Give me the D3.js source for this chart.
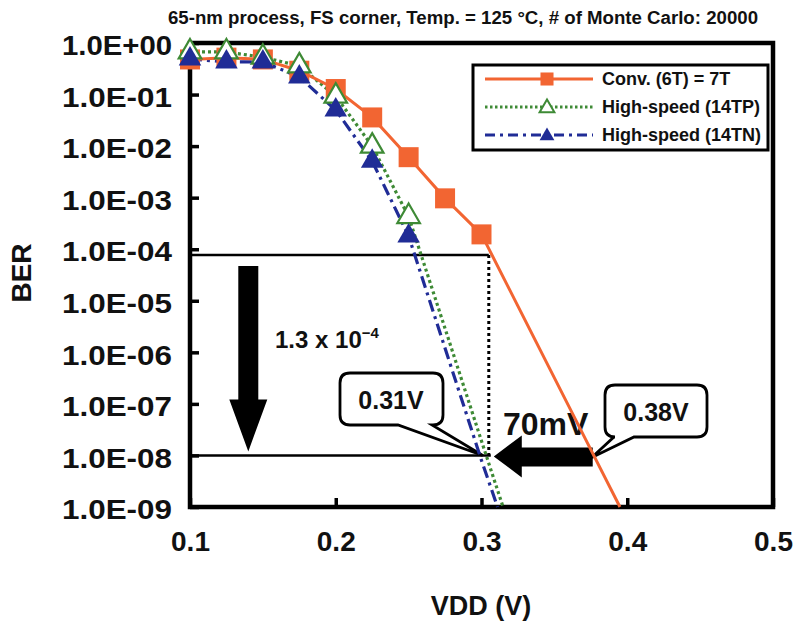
<!DOCTYPE html>
<html><head><meta charset="utf-8">
<script src="https://cdn.jsdelivr.net/npm/d3@7"></script>
<style>
body{margin:0;background:#fff}
text{font-family:"Liberation Sans",Arial,Helvetica,sans-serif;font-weight:bold;fill:#111}
</style>
</head><body>
<svg id="c" width="800" height="636"></svg>
<script>
// ---- data ----
const titleText = "65-nm process, FS corner, Temp. = 125 \u00B0C, # of Monte Carlo: 20000";
const seriesNames = ["Conv. (6T) = 7T", "High-speed (14TP)", "High-speed (14TN)"];
const vddConv = [0.1, 0.125, 0.15, 0.175, 0.2, 0.225, 0.25, 0.275, 0.3];
const berConv = [0.48, 0.52, 0.48, 0.29, 0.128, 0.036, 0.0061, 0.00097, 0.000194];
const vddConvFit = [0.325, 0.35, 0.375, 0.395];
const berConvFit = [7.9e-6, 3.2e-7, 1.3e-8, 1e-9];
const vddHS = [0.1, 0.125, 0.15, 0.175, 0.2, 0.225, 0.25];
const berTP = [0.67, 0.67, 0.53, 0.36, 0.093, 0.010, 0.00043];
const berTN = [0.49, 0.43, 0.43, 0.22, 0.05, 0.0051, 0.00018];
const vddTPFit = [0.275, 0.3, 0.3148];
const berTPFit = [2.9e-6, 1.9e-8, 1e-9];
const vddTNFit = [0.275, 0.3, 0.311];
const berTNFit = [1.2e-6, 8e-9, 1e-9];
const xTicks = [0.1, 0.2, 0.3, 0.4, 0.5];
const yTicks = [1e0, 1e-1, 1e-2, 1e-3, 1e-4, 1e-5, 1e-6, 1e-7, 1e-8, 1e-9];
const yTickLabels = ["1.0E+00","1.0E-01","1.0E-02","1.0E-03","1.0E-04","1.0E-05","1.0E-06","1.0E-07","1.0E-08","1.0E-09"];
const berConvAt031 = 7.7e-5;   // conv BER at 0.31 V
const berTarget = 1e-8;
const vNew = 0.305, vOld = 0.377;

// ---- layout ----
const L = 190, R = 773, T = 43, B = 507;
const C = {conv:"#F26532", tp:"#3E8A35", tn:"#202C96"};
const svg = d3.select("#c");
const x = d3.scaleLinear().domain([0.1, 0.5]).range([L, R]);
const y = d3.scaleLog().domain([1, 1e-9]).range([T, B]);

// title
svg.append("text").attr("x", 168).attr("y", 24).attr("font-size", 18)
  .attr("textLength", 590).attr("lengthAdjust", "spacingAndGlyphs").text(titleText);

// frame
svg.append("rect").attr("x", L).attr("y", T).attr("width", R - L).attr("height", B - T)
  .attr("fill", "none").attr("stroke", "#000").attr("stroke-width", 4.5);

// axes
const gx = svg.append("g").attr("transform", `translate(0,${B})`)
  .call(d3.axisBottom(x).tickValues(xTicks).tickFormat(d3.format(".1f")).tickSize(-9).tickPadding(24));
const gy = svg.append("g").attr("transform", `translate(${L},0)`)
  .call(d3.axisLeft(y).tickValues(yTicks).tickFormat((d, i) => yTickLabels[i]).tickSize(-9).tickPadding(18));
[gx, gy].forEach(g => {
  g.select(".domain").remove();
  g.selectAll(".tick line").attr("stroke", "#000").attr("stroke-width", 3.5);
  g.selectAll(".tick text").attr("font-size", 28).attr("fill", "#111")
   .attr("font-family", '"Liberation Sans",Arial,sans-serif').attr("font-weight", "bold");
});
gy.selectAll(".tick text").attr("dy", "0.42em").attr("textLength", 110).attr("lengthAdjust", "spacingAndGlyphs");

// axis titles
svg.append("text").attr("x", 481).attr("y", 615).attr("text-anchor", "middle").attr("font-size", 27).text("VDD (V)");
svg.append("text").attr("transform", "translate(31,273) rotate(-90)").attr("text-anchor", "middle").attr("font-size", 28).text("BER");

// reference lines
const ann = svg.append("g");
ann.append("line").attr("x1", L).attr("x2", x(vNew)).attr("y1", y(berConvAt031)).attr("y2", y(berConvAt031))
  .attr("stroke", "#000").attr("stroke-width", 2.5);
ann.append("line").attr("x1", L).attr("x2", x(vNew) + 2).attr("y1", y(berTarget)).attr("y2", y(berTarget))
  .attr("stroke", "#000").attr("stroke-width", 2.5);
ann.append("line").attr("x1", x(vNew)).attr("x2", x(vNew)).attr("y1", y(berConvAt031)).attr("y2", y(berTarget))
  .attr("stroke", "#000").attr("stroke-width", 3).attr("stroke-dasharray", "3,3");

// series lines
const line = d3.line().x(d => x(d[0])).y(d => y(d[1]));
const zip = (a, b) => a.map((v, i) => [v, b[i]]);
const convPts = zip(vddConv, berConv).concat(zip(vddConvFit, berConvFit));
const tpPts = zip(vddHS, berTP).concat(zip(vddTPFit, berTPFit));
const tnPts = zip(vddHS, berTN).concat(zip(vddTNFit, berTNFit));
svg.append("path").attr("d", line(tpPts)).attr("fill", "none").attr("stroke", C.tp).attr("stroke-width", 3.2).attr("stroke-dasharray", "3,3");
svg.append("path").attr("d", line(tnPts)).attr("fill", "none").attr("stroke", C.tn).attr("stroke-width", 3.2).attr("stroke-dasharray", "12,5,3,5");
svg.append("path").attr("d", line(convPts)).attr("fill", "none").attr("stroke", C.conv).attr("stroke-width", 3);

// markers
const sq = d3.symbol().type(d3.symbolSquare).size(400);
const tri = d3.symbol().type(d3.symbolTriangle).size(220);
svg.append("g").selectAll("path").data(zip(vddConv, berConv)).join("path")
  .attr("d", sq).attr("transform", d => `translate(${x(d[0])},${y(d[1])})`).attr("fill", C.conv);
svg.append("g").selectAll("path").data(zip(vddHS, berTP)).join("path")
  .attr("d", tri).attr("transform", d => `translate(${x(d[0])},${y(d[1])})`)
  .attr("fill", "#fff").attr("stroke", C.tp).attr("stroke-width", 2.2);
svg.append("g").selectAll("path").data(zip(vddHS, berTN)).join("path")
  .attr("d", tri).attr("transform", d => `translate(${x(d[0])},${y(d[1])})`).attr("fill", C.tn);

// legend
const lg = svg.append("g");
lg.append("rect").attr("x", 473).attr("y", 65).attr("width", 295).attr("height", 85)
  .attr("fill", "#fff").attr("stroke", "#000").attr("stroke-width", 3);
const rows = [79, 107, 135];
const styles = [
  {c: C.conv, dash: null, sym: d3.symbol().type(d3.symbolSquare).size(170), fill: C.conv, stroke: null},
  {c: C.tp, dash: "2.5,2.5", sym: d3.symbol().type(d3.symbolTriangle).size(95), fill: "#fff", stroke: C.tp},
  {c: C.tn, dash: "10,5,3,5", sym: d3.symbol().type(d3.symbolTriangle).size(95), fill: C.tn, stroke: null}
];
seriesNames.forEach((n, i) => {
  const s = styles[i], yy = rows[i];
  lg.append("line").attr("x1", 485).attr("x2", 593).attr("y1", yy).attr("y2", yy)
    .attr("stroke", s.c).attr("stroke-width", 3).attr("stroke-dasharray", s.dash);
  lg.append("path").attr("d", s.sym()).attr("transform", `translate(547,${yy + (i ? 1 : 0)})`)
    .attr("fill", s.fill).attr("stroke", s.stroke).attr("stroke-width", 2);
  lg.append("text").attr("x", 602).attr("y", yy + 6).attr("font-size", 18).text(n);
});

// big down arrow
const ax = x(0.14), aTop = y(berConvAt031) + 11, aTip = y(berTarget) - 4;
ann.append("path").attr("d", `M${ax-10},${aTop} H${ax+10} V${aTip-52} H${ax+19} L${ax},${aTip} L${ax-19},${aTip-52} H${ax-10} Z`).attr("fill", "#000");
const t13 = ann.append("text").attr("x", 275).attr("y", 348).attr("font-size", 24);
t13.append("tspan").text("1.3 x 10");
t13.append("tspan").attr("dy", -10).attr("font-size", 15).text("\u2212" + "4");

// big left arrow (70 mV)
const yA = y(berTarget) + 1, tipX = x(vNew) + 5, tailX = x(vOld) - 1;
ann.append("path").attr("d", `M${tipX},${yA} L${tipX+28},${yA-21} V${yA-9} H${tailX} V${yA+10} H${tipX+28} V${yA+21} Z`).attr("fill", "#000");
ann.append("text").attr("x", 503).attr("y", 435).attr("font-size", 32).text("70mV");

// callouts
function callout(x0, y0, x1, y1, r, ta, tb, tip, side) {
  let p = `M${x0+r},${y0} H${x1-r} Q${x1},${y0} ${x1},${y0+r} V${y1-r} Q${x1},${y1} ${x1-r},${y1}`;
  if (side === "bottom") p += ` H${tb} L${tip[0]},${tip[1]} L${ta},${y1}`;
  p += ` H${x0+r} Q${x0},${y1} ${x0},${y1-r} V${y0+r} Q${x0},${y0} ${x0+r},${y0} Z`;
  return p;
}
ann.append("path").attr("d", callout(340, 373, 443, 425, 10, 398, 432, [x(vNew) - 6, y(berTarget)], "bottom"))
  .attr("fill", "#fff").attr("stroke", "#000").attr("stroke-width", 2.8).attr("stroke-linejoin", "miter");
ann.append("text").attr("x", 391).attr("y", 409).attr("text-anchor", "middle").attr("font-size", 25).text("0.31V");
ann.append("path").attr("d", callout(605, 385, 707, 437, 10, 614, 634, [x(vOld) - 2, y(berTarget) + 2], "bottom"))
  .attr("fill", "#fff").attr("stroke", "#000").attr("stroke-width", 2.8);
ann.append("text").attr("x", 656).attr("y", 421).attr("text-anchor", "middle").attr("font-size", 25).text("0.38V");
</script>
</body></html>
